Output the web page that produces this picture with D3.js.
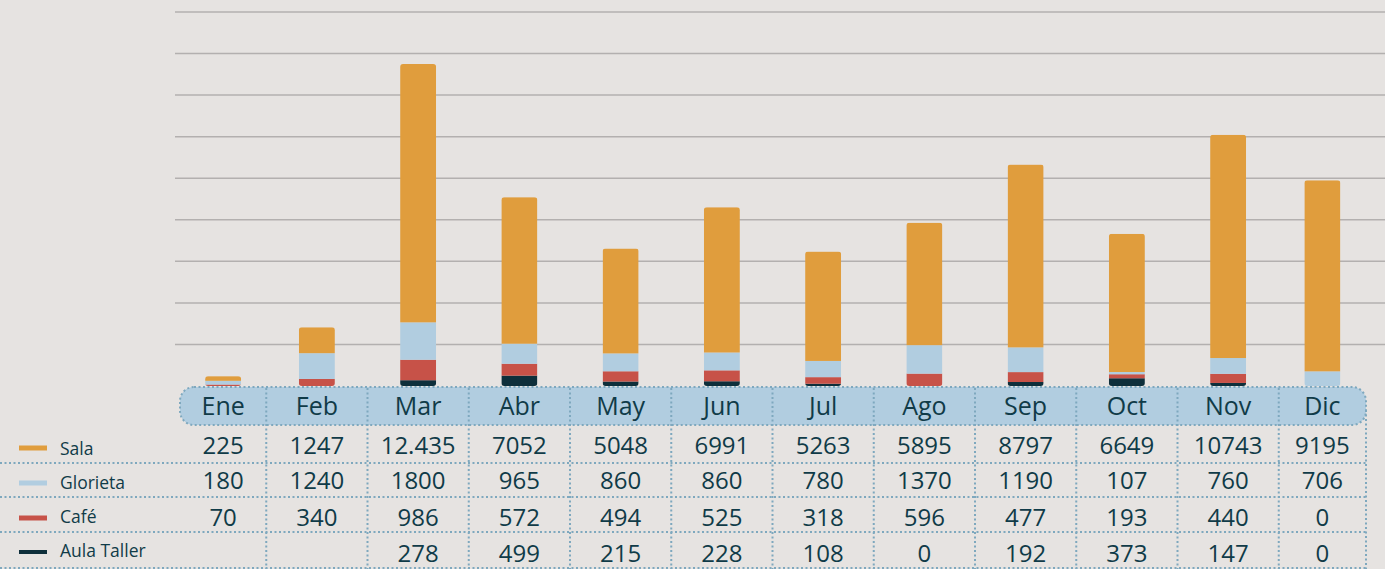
<!DOCTYPE html>
<html>
<head>
	<meta charset="UTF-8" />
	<title>Visitas por mes</title>
	<script src="https://d3js.org/d3.v7.min.js"></script>
	<style>
		body { margin: 0; background: #e6e3e1; }
		svg { display: block; }
		.tbl text { font-family: "Open Sans", sans-serif; fill: #103b48; }
	</style>
</head>
<body>
	<div id="main"></div>
	<script type="text/javascript">
		var meses = ['Ene', 'Feb', 'Mar', 'Abr', 'May', 'Jun', 'Jul', 'Ago', 'Sep', 'Oct', 'Nov', 'Dic'];
		var series = ['Sala', 'Glorieta', 'Café', 'Aula Taller'];
		var sala = [225, 1247, 12435, 7052, 5048, 6991, 5263, 5895, 8797, 6649, 10743, 9195];
		var glorieta = [180, 1240, 1800, 965, 860, 860, 780, 1370, 1190, 107, 760, 706];
		var cafe = [70, 340, 986, 572, 494, 525, 318, 596, 477, 193, 440, 0];
		var aula = [null, null, 278, 499, 215, 228, 108, 0, 192, 373, 147, 0];
		// how Sala is printed in the table
		var salaText = ['225', '1247', '12.435', '7052', '5048', '6991', '5263', '5895', '8797', '6649', '10743', '9195'];
		var colores = ['#e09d3d', '#b1cde0', '#c75248', '#0e2f3b'];
		var yTicks = d3.range(0, 18001, 2000);

		var width = 1385, height = 569;
		var svg = d3.select('#main').append('svg').attr('width', width).attr('height', height);
		svg.append('rect').attr('width', width).attr('height', height).attr('fill', '#e6e3e1');

		var x = d3.scaleBand().domain(meses).range([165, 1380]).padding(0);
		var y = d3.scaleLinear().domain([0, 18000]).range([386, 12]);
		var pillL = 180, pillR = 1366;
		// center of the visible part of each column
		function cx(m) {
			var a = Math.max(x(m), pillL), b = Math.min(x(m) + x.bandwidth(), pillR);
			return (a + b) / 2;
		}

		// grid
		svg.append('g').selectAll('line').data(yTicks.slice(1)).enter().append('line')
			.attr('x1', 175).attr('x2', width)
			.attr('y1', d => y(d)).attr('y2', d => y(d))
			.attr('stroke', '#b3b0af').attr('stroke-width', 1.5);

		// stacked bars (bottom: Aula Taller)
		var rows = meses.map((m, i) => ({ mes: m, 'Sala': sala[i], 'Glorieta': glorieta[i], 'Café': cafe[i], 'Aula Taller': aula[i] || 0 }));
		var stack = d3.stack().keys(series.slice().reverse())(rows);
		var color = d3.scaleOrdinal().domain(series).range(colores);
		var barW = 36;

		var defs = svg.append('defs');
		rows.forEach(function (r, i) {
			var tot = r['Sala'] + r['Glorieta'] + r['Café'] + r['Aula Taller'];
			defs.append('clipPath').attr('id', 'clip' + i).append('rect')
				.attr('x', cx(r.mes) - barW / 2).attr('width', barW)
				.attr('y', y(tot)).attr('height', y(0) - y(tot)).attr('rx', 3);
		});
		var bars = svg.append('g');
		stack.forEach(function (s) {
			bars.append('g').attr('fill', color(s.key)).selectAll('rect').data(s).enter().append('rect')
				.attr('clip-path', (d, i) => 'url(#clip' + i + ')')
				.attr('x', d => cx(d.data.mes) - barW / 2).attr('width', barW)
				.attr('y', d => y(d[1])).attr('height', d => y(d[0]) - y(d[1]));
		});

		// table
		var tbl = svg.append('g').attr('class', 'tbl');
		var dot = { stroke: '#7ea8be', width: 2, dash: '2,2.5' };
		tbl.append('rect').attr('x', pillL).attr('y', 387).attr('width', pillR - pillL).attr('height', 38).attr('rx', 14)
			.attr('fill', '#b1cde0').attr('stroke', dot.stroke).attr('stroke-width', dot.width).attr('stroke-dasharray', dot.dash);

		var rowLines = [463, 497, 532, 568];
		tbl.selectAll('.hl').data(rowLines).enter().append('line').attr('class', 'hl')
			.attr('x1', 0).attr('x2', pillR).attr('y1', d => d).attr('y2', d => d)
			.attr('stroke', dot.stroke).attr('stroke-width', dot.width).attr('stroke-dasharray', dot.dash);
		tbl.selectAll('.vl').data(meses.slice(1)).enter().append('line').attr('class', 'vl')
			.attr('x1', d => x(d)).attr('x2', d => x(d)).attr('y1', 388).attr('y2', height)
			.attr('stroke', dot.stroke).attr('stroke-width', dot.width).attr('stroke-dasharray', dot.dash);
		tbl.append('line').attr('x1', pillR).attr('x2', pillR).attr('y1', 410).attr('y2', height)
			.attr('stroke', dot.stroke).attr('stroke-width', dot.width).attr('stroke-dasharray', dot.dash);

		tbl.selectAll('.mes').data(meses).enter().append('text').attr('class', 'mes')
			.attr('x', d => cx(d)).attr('y', 415).attr('text-anchor', 'middle')
			.attr('font-size', 25).text(d => d);

		var tableRows = [
			salaText,
			glorieta.map(String),
			cafe.map(String),
			aula.map(d => d == null ? '' : String(d))
		];
		var baselines = [454, 489, 526, 562];
		var legendY = [448, 483, 518, 552];
		var legendBase = [455, 489, 523, 557];
		tableRows.forEach(function (vals, r) {
			tbl.append('g').selectAll('text').data(vals).enter().append('text')
				.attr('x', (d, i) => cx(meses[i])).attr('y', baselines[r]).attr('text-anchor', 'middle')
				.attr('font-size', 24).text(d => d);
			tbl.append('line').attr('x1', 19).attr('x2', 47).attr('y1', legendY[r]).attr('y2', legendY[r])
				.attr('stroke', colores[r]).attr('stroke-width', r === 3 ? 4 : 5);
			tbl.append('text').attr('x', 60).attr('y', legendBase[r]).attr('font-size', 17.5).text(series[r]);
		});
	</script>
</body>
</html>
